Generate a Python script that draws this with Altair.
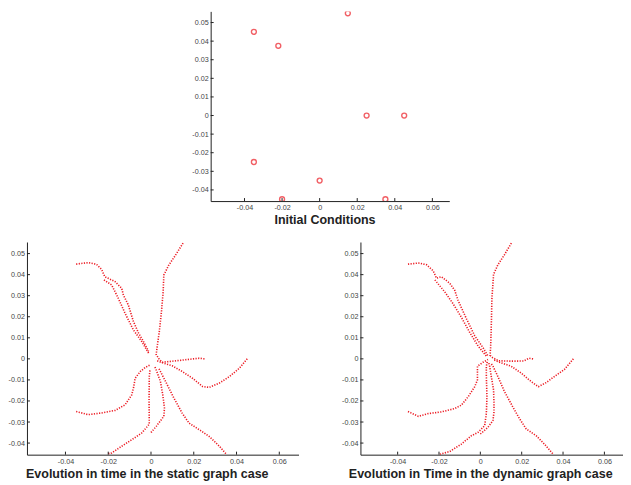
import altair as alt
import pandas as pd

RED = "#ec1c24"

# ---------------- data ----------------
init_x = [0.015, -0.035, -0.022, 0.025, 0.045, -0.035, 0.0, -0.020, 0.035]
init_y = [0.055, 0.045, 0.0375, 0.0, 0.0, -0.025, -0.035, -0.045, -0.045]

x_ticks = [-0.04, -0.02, 0, 0.02, 0.04, 0.06]
y_ticks = [-0.04, -0.03, -0.02, -0.01, 0, 0.01, 0.02, 0.03, 0.04, 0.05]

# static graph case: trajectories read as (x, y) waypoints
static_a = [(-0.035, 0.045), (-0.0294, 0.0457), (-0.0255, 0.0449), (-0.0231, 0.0425), (-0.0216, 0.039),
            (-0.0168, 0.0367), (-0.0137, 0.0335), (-0.0129, 0.0303), (-0.0106, 0.0256), (-0.0082, 0.0177),
            (-0.0058, 0.0122), (-0.0035, 0.0082), (-0.0011, 0.0035)]
static_b = [(-0.022, 0.0375), (-0.0184, 0.0351), (-0.0153, 0.0288), (-0.0121, 0.0216), (-0.0082, 0.0137),
            (-0.0043, 0.0082), (-0.0011, 0.0027)]
static_c = [(0.015, 0.055), (0.0115, 0.0493), (0.0083, 0.0445), (0.006, 0.0398), (0.0057, 0.0319),
            (0.0049, 0.0224), (0.0039, 0.013), (0.0028, 0.0051), (0.0024, 0.0019)]
static_d = [(0.025, 0.0), (0.0225, 0.0003), (0.0146, -0.0006), (0.0083, -0.0013), (0.0052, -0.0016),
            (0.0035, 0.0003), (0.0024, 0.0022)]
static_e = [(0.045, 0.0), (0.0414, -0.0044), (0.0367, -0.0084), (0.032, -0.0115), (0.0272, -0.0136),
            (0.0241, -0.0131), (0.0194, -0.0092), (0.0146, -0.006), (0.0099, -0.0033), (0.006, -0.0021),
            (0.0028, -0.0009)]
static_f = [(-0.035, -0.025), (-0.0294, -0.0265), (-0.0231, -0.0257), (-0.0168, -0.0245), (-0.0121, -0.0218),
            (-0.009, -0.0171), (-0.0082, -0.0139), (-0.0074, -0.0092), (-0.005, -0.006), (-0.0027, -0.0041),
            (-0.0003, -0.0028)]
static_g = [(0.0, -0.035), (0.0025, -0.032), (0.006, -0.0273), (0.0063, -0.0234), (0.0055, -0.017),
            (0.0044, -0.0107), (0.0024, -0.0052), (0.0018, -0.0037)]
static_h = [(-0.020, -0.045), (-0.0184, -0.0447), (-0.0137, -0.0415), (-0.009, -0.0384), (-0.0043, -0.0352),
            (-0.0008, -0.031), (-0.0009, -0.02), (-0.0008, -0.0085), (-0.0005, -0.0055)]
static_i = [(0.035, -0.045), (0.032, -0.0415), (0.0272, -0.0368), (0.0225, -0.0336), (0.0178, -0.0305),
            (0.0146, -0.0258), (0.0107, -0.0186), (0.0068, -0.0107), (0.0044, -0.006), (0.0036, -0.0044)]

# dynamic graph case
dyn_a = [(-0.035, 0.045), (-0.030, 0.0455), (-0.026, 0.0447), (-0.0228, 0.0418), (-0.0212, 0.0383),
         (-0.0188, 0.039), (-0.0148, 0.0359), (-0.0124, 0.0326), (-0.0116, 0.0302), (-0.0108, 0.0278),
         (-0.0067, 0.019), (-0.0027, 0.0109), (0.0013, 0.0053), (0.0037, 0.0013)]
dyn_b = [(-0.022, 0.0375), (-0.0172, 0.0318), (-0.0132, 0.0262), (-0.0092, 0.0198), (-0.0051, 0.0125),
         (-0.0011, 0.0061), (0.0029, 0.0013)]
dyn_c = [(0.015, 0.055), (0.0117, 0.0495), (0.0085, 0.0447), (0.0064, 0.0402), (0.0056, 0.0286),
         (0.0053, 0.0158), (0.005, 0.0061), (0.0047, 0.0013)]
dyn_d = [(0.0255, 0.0), (0.0235, 0.0003), (0.021, -0.001), (0.015, -0.0011), (0.009, -0.0009),
         (0.006, 0.0005), (0.005, 0.0015)]
dyn_e = [(0.045, 0.0), (0.0406, -0.0051), (0.0358, -0.0084), (0.0318, -0.0113), (0.0281, -0.0132),
         (0.0246, -0.0108), (0.0198, -0.0068), (0.0149, -0.0035), (0.0101, -0.0019), (0.0061, -0.0003)]
dyn_f = [(-0.035, -0.025), (-0.030, -0.0273), (-0.0252, -0.026), (-0.0188, -0.0252), (-0.0124, -0.0236),
         (-0.0092, -0.022), (-0.0059, -0.018), (-0.0027, -0.0132), (-0.0014, -0.010), (-0.0014, -0.0035),
         (0.0013, -0.0016), (0.0037, -0.0003)]
dyn_g = [(0.0, -0.0357), (0.0037, -0.0325), (0.0061, -0.0293), (0.0066, -0.0252), (0.0066, -0.0212),
         (0.0064, -0.0148), (0.0053, -0.0084), (0.0045, -0.0035), (0.004, -0.0016)]
dyn_h = [(-0.0196, -0.0453), (-0.0148, -0.044), (-0.0092, -0.0405), (-0.0043, -0.0365), (-0.0011, -0.0349),
         (0.0021, -0.0317), (0.0029, -0.026), (0.0032, -0.018), (0.0029, -0.0084), (0.0029, -0.0035),
         (0.0034, -0.0011)]
dyn_i = [(0.035, -0.045), (0.031, -0.0405), (0.027, -0.0365), (0.0222, -0.0333), (0.019, -0.0285),
         (0.0157, -0.0228), (0.0117, -0.0156), (0.0085, -0.0084), (0.0061, -0.0035), (0.005, -0.0019)]

static_trajs = [static_a, static_b, static_c, static_d, static_e, static_f, static_g, static_h, static_i]
dyn_trajs = [dyn_a, dyn_b, dyn_c, dyn_d, dyn_e, dyn_f, dyn_g, dyn_h, dyn_i]


def traj_df(trajs):
    rows = []
    for k, t in enumerate(trajs):
        for j, (x, y) in enumerate(t):
            rows.append({"x": x, "y": y, "traj": k, "ord": j})
    return pd.DataFrame(rows)


LABEL_EXPR = "'' + datum.value"


def panel(marks, width, height, xdom, ydom, title, title_x, title_pad):
    xs = alt.Scale(domain=xdom, nice=False, zero=False)
    ys = alt.Scale(domain=ydom, nice=False, zero=False)
    xa = alt.Axis(values=x_ticks, labelExpr=LABEL_EXPR, title=title, titleX=title_x,
                  titlePadding=title_pad)
    ya = alt.Axis(values=y_ticks, labelExpr=LABEL_EXPR, title=None)
    main = marks.encode(
        x=alt.X("x:Q", scale=xs, axis=xa),
        y=alt.Y("y:Q", scale=ys, axis=ya),
    )
    xt = alt.Chart(pd.DataFrame({"x": x_ticks})).mark_rule(color="#222", strokeWidth=1).encode(
        x=alt.X("x:Q", scale=xs, axis=xa),
        y=alt.value(height), y2=alt.value(height - 3))
    yt = alt.Chart(pd.DataFrame({"y": y_ticks})).mark_rule(color="#222", strokeWidth=1).encode(
        y=alt.Y("y:Q", scale=ys, axis=ya),
        x=alt.value(0), x2=alt.value(3))
    return alt.layer(main, xt, yt).properties(width=width, height=height)


init_df = pd.DataFrame({"x": init_x, "y": init_y})
top_marks = alt.Chart(init_df).mark_point(shape="circle", filled=False, color=RED, size=24,
                                          strokeWidth=1.4, clip=True)
top = panel(top_marks, 239, 190, [-0.058, 0.069], [-0.046, 0.056], "Initial Conditions", 114, 3)

# empty spacer that pushes the top panel to the middle of the page
spacer = alt.Chart(pd.DataFrame({"s": [0]})).mark_point(opacity=0).encode(
    x=alt.value(0), y=alt.value(0)).properties(width=165, height=1)

left_marks = alt.Chart(traj_df(static_trajs)).mark_line(
    color=RED, strokeWidth=1.6, strokeDash=[1.2, 1.4], clip=True).encode(
    detail="traj:N", order="ord:Q")
right_marks = alt.Chart(traj_df(dyn_trajs)).mark_line(
    color=RED, strokeWidth=1.6, strokeDash=[1.2, 1.4], clip=True).encode(
    detail="traj:N", order="ord:Q")

left = panel(left_marks, 272, 213, [-0.058, 0.069], [-0.0455, 0.0555],
             "Evolution in time in the static graph case", 120, 3)
right = panel(right_marks, 263, 213, [-0.058, 0.069], [-0.0455, 0.0555],
              "Evolution in Time in the dynamic graph case", 120, 3)

chart = alt.vconcat(
    alt.hconcat(spacer, top, spacing=0),
    alt.hconcat(left, right, spacing=43),
    spacing=15,
).properties(
    padding={"left": 0, "right": 0, "top": 0, "bottom": 0}
).configure_view(stroke=None).configure_axis(
    domainColor="#222", domainWidth=1, ticks=False, grid=False,
    labelFont="Liberation Sans", labelFontSize=7.2, labelColor="#444", labelPadding=2.5,
    titleFont="Liberation Sans", titleFontSize=12.5, titleFontWeight="bold", titleColor="#222",
)

chart.save("out.html", embed_options={"renderer": "svg", "actions": False})
